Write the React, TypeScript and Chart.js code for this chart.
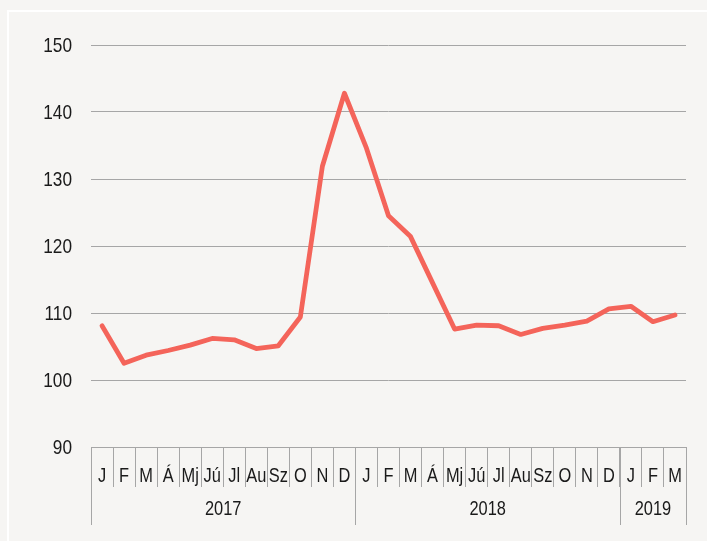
import React, { useEffect, useRef } from "react";
import { Chart, registerables } from "chart.js";

Chart.register(...registerables);

const months = ["J","F","M","Á","Mj","Jú","Jl","Au","Sz","O","N","D","J","F","M","Á","Mj","Jú","Jl","Au","Sz","O","N","D","J","F","M"];
const values = [108.1,102.5,103.7,104.4,105.2,106.2,106.0,104.7,105.1,109.4,131.9,142.8,134.6,124.5,121.4,114.5,107.6,108.2,108.1,106.8,107.7,108.2,108.8,110.6,111.0,108.7,109.7];
const years = ["2017","2018","2019"];
const yearStarts = [0, 12, 24];
const yearCounts = [12, 12, 3];
const yTicks = [90, 100, 110, 120, 130, 140, 150];

const FONT = "'Liberation Sans', Arial, sans-serif";
const GRID = "#a6a6a6";
const TEXT = "#1a1a1a";
const SQUEEZE = 0.82;

function drawText(ctx: CanvasRenderingContext2D, text: string, x: number, y: number, align: CanvasTextAlign) {
  ctx.save();
  ctx.translate(x, y);
  ctx.scale(SQUEEZE, 1);
  ctx.textAlign = align;
  ctx.textBaseline = "middle";
  ctx.fillText(text, 0, 0);
  ctx.restore();
}

const labelPlugin = {
  id: "labels",
  afterDraw(chart: any) {
    const x = chart.scales.x;
    const y = chart.scales.y;
    const ctx = chart.ctx;
    const half = (x.getPixelForValue(1) - x.getPixelForValue(0)) / 2;
    const top = chart.chartArea.bottom;
    const bottom = top + 78;
    ctx.save();
    ctx.fillStyle = TEXT;
    ctx.font = "21px " + FONT;
    yTicks.forEach((v) => {
      drawText(ctx, String(v), chart.chartArea.left - 19, y.getPixelForValue(v) + 1, "right");
    });
    ctx.font = "20px " + FONT;
    months.forEach((m, i) => {
      drawText(ctx, m, x.getPixelForValue(i), top + 29, "center");
    });
    ctx.strokeStyle = GRID;
    ctx.lineWidth = 1;
    const bounds: number[] = [];
    yearStarts.forEach((s, i) => {
      bounds.push(x.getPixelForValue(s) - half);
      if (i === yearStarts.length - 1) bounds.push(x.getPixelForValue(s + yearCounts[i] - 1) + half);
    });
    bounds.forEach((b) => {
      const px = Math.round(b) + 0.5;
      ctx.beginPath();
      ctx.moveTo(px, top);
      ctx.lineTo(px, bottom);
      ctx.stroke();
    });
    years.forEach((yr, i) => {
      const mid = (bounds[i] + bounds[i + 1]) / 2;
      drawText(ctx, yr, mid, top + 62, "center");
    });
    ctx.restore();
  },
};

export default function App() {
  const ref = useRef<HTMLCanvasElement>(null);
  useEffect(() => {
    if (!ref.current) return;
    const chart = new Chart(ref.current, {
      type: "line",
      data: {
        labels: months,
        datasets: [
          {
            data: values,
            borderColor: "#f4645a",
            borderWidth: 4.8,
            pointRadius: 0,
            tension: 0,
            borderJoinStyle: "round",
            borderCapStyle: "round",
          },
        ],
      },
      options: {
        animation: false,
        responsive: false,
        maintainAspectRatio: false,
        layout: { padding: { top: 45, right: 21, left: 0, bottom: 0 } },
        plugins: { legend: { display: false }, tooltip: { enabled: false } },
        scales: {
          x: {
            offset: true,
            afterFit: (s: any) => { s.height = 94; },
            grid: {
              offset: true,
              drawOnChartArea: false,
              drawTicks: true,
              tickLength: 40,
              color: GRID,
            },
            border: { display: true, color: GRID },
            ticks: { display: false, autoSkip: false, maxRotation: 0, minRotation: 0 },
          },
          y: {
            min: 90,
            max: 150,
            afterFit: (s: any) => { s.width = 91; },
            grid: { drawTicks: false, color: GRID },
            border: { display: false },
            ticks: { display: false, stepSize: 10 },
          },
        },
      },
      plugins: [labelPlugin],
    });
    return () => chart.destroy();
  }, []);
  return (
    <div style={{ position: "absolute", left: 0, top: 0, width: 707, height: 541, background: "#f6f5f3", overflow: "hidden" }}>
      <div style={{ position: "absolute", left: 7, top: 10, width: 720, height: 560, borderLeft: "2px solid #ffffff", borderTop: "2px solid #ffffff" }} />
      <canvas ref={ref} width={707} height={541} style={{ position: "absolute", left: 0, top: 0 }} />
    </div>
  );
}
